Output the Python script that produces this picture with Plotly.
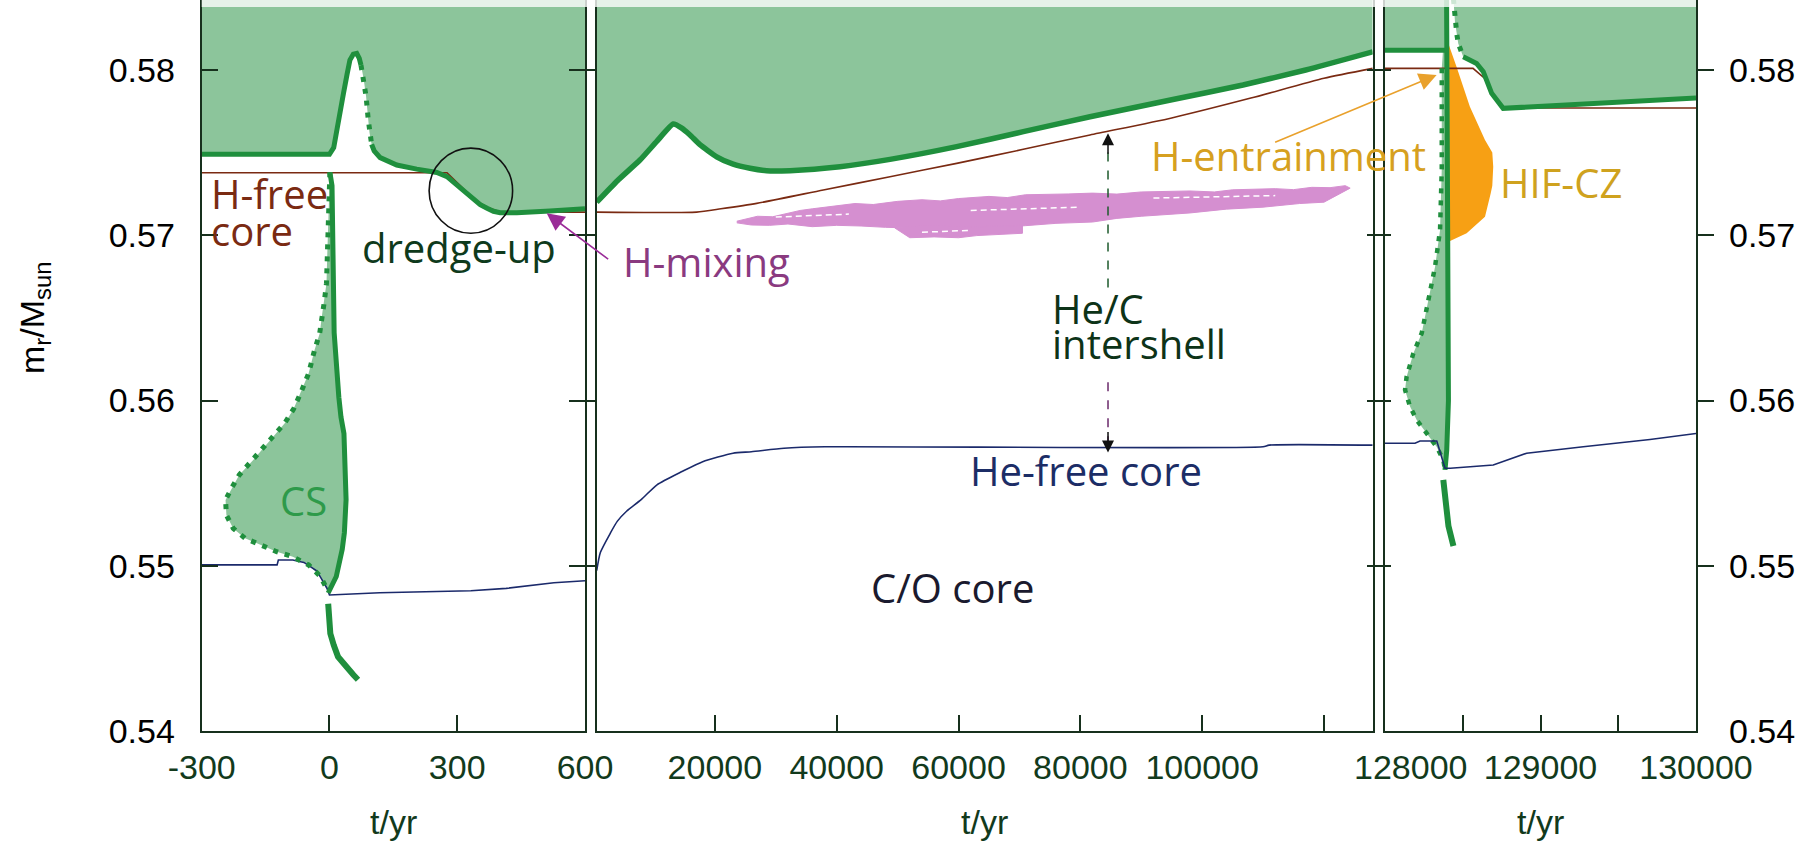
import plotly.graph_objects as go

W, H = 1816, 842
Y_TOP = 0.5845

# ---------------- Panel 1 (t = -300 .. 600 yr) ----------------
T1_ENV = [-300, -200, -100, 0, 10, 17, 25, 33, 41, 48, 56, 64, 70, 74]
M1_ENV = [0.5749, 0.5749, 0.5749, 0.5749, 0.5753, 0.5762, 0.5774, 0.5786, 0.5797, 0.5806, 0.58095, 0.5810, 0.5807, 0.5803]
T1_ENV_FALL = [74, 80, 86, 91, 94, 99]
M1_ENV_FALL = [0.5803, 0.5795, 0.5784, 0.5770, 0.5762, 0.5755]
T1_ENV_POST = [99, 105, 119, 140, 158, 205, 252, 276, 292, 307, 322, 338, 354, 370, 385, 401, 440, 518, 600]
M1_ENV_POST = [0.5755, 0.5751, 0.5747, 0.57445, 0.57425, 0.5740, 0.5738, 0.57355, 0.5732, 0.57283, 0.5725,
               0.57213, 0.57185, 0.57163, 0.57145, 0.57136, 0.57136, 0.57146, 0.5716]

T1_HFREE = [-300, 276, 307, 338, 370, 401, 600]
M1_HFREE = [0.57378, 0.57378, 0.5730, 0.5722, 0.5717, 0.5714, 0.5714]

T1_HEFREE = [-300, -123, -120, -86, -60, -30, -5, 0, 118, 332, 415, 527, 600]
M1_HEFREE = [0.55005, 0.55005, 0.55035, 0.55035, 0.55020, 0.5497, 0.5486, 0.54823, 0.54837, 0.54849, 0.54863, 0.54897, 0.54909]

T1_CS_LEFT = [1, -1, -3, -5, -7, -12, -17, -23, -35, -49, -68, -84, -105, -142, -179, -212, -230, -244, -242,
              -226, -198, -161, -124, -86, -49, -21, -3]
M1_CS_LEFT = [0.5738, 0.5725, 0.5711, 0.5690, 0.5671, 0.5660, 0.56527, 0.56406, 0.56305, 0.56164, 0.56043, 0.5595,
              0.55863, 0.55751, 0.5564, 0.55549, 0.55469, 0.55398, 0.55307, 0.55226, 0.55166, 0.55126, 0.55085,
              0.55054, 0.55005, 0.54935, 0.54843]
T1_CS_RIGHT = [-3, 16, 30, 35, 39, 34, 27, 22, 11, 7, 6, 1]
M1_CS_RIGHT = [0.54835, 0.54935, 0.5510, 0.5520, 0.5540, 0.5580, 0.5590, 0.5602, 0.5641, 0.5700, 0.5730, 0.5738]

T1_LOW = [-3, 0, 2, 10, 20, 33, 44, 56, 67]
M1_LOW = [0.5477, 0.5468, 0.5459, 0.5452, 0.5445, 0.5441, 0.5437, 0.5434, 0.5431]

# ---------------- Panel 2 (t = 600 .. 128000 yr) ----------------
T2_ENV = [600, 4000, 7700, 10500, 13180, 14500, 15920, 17500, 20300, 23000, 25770, 28500, 32340, 40540, 48750,
          59700, 70640, 81590, 95000, 106700, 117000, 128000]
M2_ENV = [0.5720, 0.5733, 0.57455, 0.5757, 0.57673, 0.5765, 0.57607, 0.5755, 0.57475, 0.5743, 0.57405, 0.5739,
          0.57391, 0.57415, 0.57459, 0.57536, 0.57627, 0.57717, 0.5782, 0.57909, 0.5800, 0.5811]

T2_HFREE = [600, 17000, 21000, 26870, 37800, 48750, 59700, 70640, 81590, 95000, 108000, 120000, 128000]
M2_HFREE = [0.5714, 0.5714, 0.5716, 0.57193, 0.57274, 0.57354, 0.57435, 0.5752, 0.57607, 0.5771, 0.5783, 0.5795, 0.5801]

T2_HEFREE = [600, 1200, 2880, 4000, 5500, 7900, 10500, 14600, 18000, 22980, 26000, 31350, 38070, 110000, 111000, 128000]
M2_HEFREE = [0.5497, 0.5508, 0.5520, 0.5527, 0.5533, 0.5540, 0.5549, 0.5557, 0.5563, 0.55681, 0.5569, 0.55711,
             0.5572, 0.5572, 0.5573, 0.5573]

# H-mixing (pink) region outlines
T2_MIX = [23600, 25500, 27000, 29500, 32000, 34000, 36000, 39000, 43000, 46000, 50000, 54000, 57000, 60000, 65000,
          68000, 71000, 78000, 82000, 86000, 90000, 98000, 102000, 105000, 112000, 115000, 118000, 121000, 123500,
          124300, 122000, 120000, 116000, 110000, 104000, 98000, 90000, 86000, 82000, 76000, 71000, 66000, 60000,
          57000, 54000, 48000, 44000, 40000, 36000, 32000, 29000, 26000, 23600]
M2_MIX = [0.57085, 0.57100, 0.57115, 0.57112, 0.57135, 0.57150, 0.57160, 0.57172, 0.57192, 0.57186, 0.57205,
          0.57215, 0.57208, 0.57222, 0.57235, 0.57228, 0.57245, 0.57250, 0.57255, 0.57249, 0.57262, 0.57268,
          0.57262, 0.57275, 0.57282, 0.57276, 0.57290, 0.57288, 0.57300, 0.57285, 0.57240, 0.57200, 0.57192,
          0.57170, 0.57158, 0.57135, 0.57115, 0.57102, 0.57080, 0.57072, 0.57058, 0.57046, 0.57030, 0.57040,
          0.57042, 0.57048, 0.57056, 0.57060, 0.57052, 0.57068, 0.57060, 0.57062, 0.57075]
T2_MIX_B = [49500, 52000, 56000, 60000, 63000, 66000, 70500, 70500, 62000, 55000]
M2_MIX_B = [0.57045, 0.56985, 0.56990, 0.56985, 0.56998, 0.57005, 0.57012, 0.57060, 0.57050, 0.57060]
# white streaks inside the noisy H-mixing band
T2_GAP_A = [30000, 42000]
M2_GAP_A = [0.57110, 0.57128]
T2_GAP_B = [62000, 80000]
M2_GAP_B = [0.57150, 0.57170]
T2_GAP_C = [92000, 112000]
M2_GAP_C = [0.57225, 0.57240]
T2_GAP_D = [54000, 62000]
M2_GAP_D = [0.57018, 0.57030]

# ---------------- Panel 3 (t = 128000 .. 130000 yr) ----------------
T3_ENV_L = [128000, 128396]
M3_ENV_L = [0.5812, 0.5812]
T3_ENV_R = [128440, 128450, 128461, 128471, 128503, 128589, 128632, 128686, 128760, 128955, 129382, 130000]
M3_ENV_R = [0.5843, 0.58292, 0.58222, 0.58161, 0.5808, 0.5804, 0.5799, 0.57859, 0.57768, 0.57778, 0.57798, 0.5783]

T3_HFREE = [128000, 128566, 128640, 128690, 128760, 130000]
M3_HFREE = [0.5801, 0.5801, 0.5795, 0.5785, 0.5777, 0.5777]

T3_HEFREE = [128000, 128193, 128225, 128333, 128386, 128420, 128696, 128911, 129275, 129704, 130000]
M3_HEFREE = [0.55741, 0.55741, 0.55755, 0.55755, 0.5559, 0.5559, 0.5561, 0.55681, 0.5572, 0.55764, 0.5580]

T3_CS_LEFT = [128365, 128365, 128354, 128322, 128279, 128236, 128182, 128139, 128129, 128161, 128204, 128268,
              128332, 128375, 128386]
M3_CS_LEFT = [0.5801, 0.5740, 0.57032, 0.5681, 0.56608, 0.56407, 0.56285, 0.56144, 0.56064, 0.55963, 0.55882,
              0.55801, 0.5572, 0.5564, 0.5558]
T3_CS_RIGHT = [128386, 128397, 128408, 128405, 128400, 128398, 128396, 128396]
M3_CS_RIGHT = [0.5558, 0.5570, 0.5600, 0.5650, 0.5700, 0.5760, 0.5812, 0.5843]

T3_LOW = [128375, 128386, 128408, 128440]
M3_LOW = [0.5552, 0.5540, 0.5524, 0.5512]

T3_HIF = [128396, 128460, 128546, 128643, 128690, 128696, 128690, 128680, 128643, 128525, 128408, 128400]
M3_HIF = [0.5819, 0.5802, 0.57778, 0.57576, 0.5750, 0.57415, 0.5730, 0.57254, 0.57112, 0.57012, 0.56961, 0.5760]

# tick labels
Y_TICKS = [0.54, 0.55, 0.56, 0.57, 0.58]
Y_TICKTEXT = ["0.54", "0.55", "0.56", "0.57", "0.58"]
X1_TICKS = [-300, 0, 300, 600]
X1_TICKTEXT = ["-300", "0", "300", "600"]
X2_TICKS = [20000, 40000, 60000, 80000, 100000, 120000]
X2_TICKTEXT = ["20000", "40000", "60000", "80000", "100000", ""]
X3_TICKS = [128000, 128500, 129000, 129500, 130000]
X3_TICKTEXT = ["", "", "129000", "", "130000"]

# ---------------- styling ----------------
FILL = "#8cc59b"
GREEN = "#1f8f3d"
BROWN = "#7a2a12"
BLUE = "#1b2a6b"
PINK = "#d58fd0"
ORANGE = "#f7a014"
AX = "#17301d"
TICKFONT = "Liberation Sans, Arial, sans-serif"
ANNFONT = "Open Sans, Noto Sans, sans-serif"
DOTS = "5px,7px"

fig = go.Figure()


def add(x, y, xa, ya="y", **kw):
    base = dict(x=x, y=y, xaxis=xa, yaxis=ya, showlegend=False, hoverinfo="skip")
    base.update(kw)
    fig.add_trace(go.Scatter(**base))


def fill_above(ts, ms, xa, t_left, t_right):
    add(list(ts) + [t_right, t_left], list(ms) + [Y_TOP, Y_TOP], xa, mode="lines",
        fill="toself", fillcolor=FILL, line=dict(width=0))


# envelope fills
fill_above(T1_ENV + T1_ENV_FALL + T1_ENV_POST, M1_ENV + M1_ENV_FALL + M1_ENV_POST, "x", -300, 600)
fill_above(T2_ENV, M2_ENV, "x2", 600, 128000)
fill_above(T3_ENV_L, M3_ENV_L, "x3", T3_ENV_L[0], T3_ENV_L[-1])
fill_above(T3_ENV_R, M3_ENV_R, "x3", T3_ENV_R[0], 130000)

# convective shell fills
add(T1_CS_LEFT + T1_CS_RIGHT, M1_CS_LEFT + M1_CS_RIGHT, "x", mode="lines", fill="toself",
    fillcolor=FILL, line=dict(width=0))
add(T3_CS_LEFT + T3_CS_RIGHT, M3_CS_LEFT + M3_CS_RIGHT, "x3", mode="lines", fill="toself",
    fillcolor=FILL, line=dict(width=0))

# H-mixing region
add(T2_MIX, M2_MIX, "x2", mode="lines", fill="toself", fillcolor=PINK, line=dict(width=1, color=PINK))
add(T2_MIX_B, M2_MIX_B, "x2", mode="lines", fill="toself", fillcolor=PINK, line=dict(width=1, color=PINK))
for gx, gy in ((T2_GAP_A, M2_GAP_A), (T2_GAP_B, M2_GAP_B), (T2_GAP_C, M2_GAP_C), (T2_GAP_D, M2_GAP_D)):
    add(gx, gy, "x2", mode="lines", line=dict(color="white", width=1.5, dash="6px,4px"))

# HIF-CZ
add(T3_HIF, M3_HIF, "x3", mode="lines", fill="toself", fillcolor=ORANGE, line=dict(width=0))

# H-free core
add(T1_HFREE, M1_HFREE, "x", mode="lines", line=dict(color=BROWN, width=1.6))
add(T2_HFREE, M2_HFREE, "x2", mode="lines", line=dict(color=BROWN, width=1.6, shape="spline", smoothing=0.6))
add(T3_HFREE, M3_HFREE, "x3", mode="lines", line=dict(color=BROWN, width=1.6))

# He-free core
add(T1_HEFREE, M1_HEFREE, "x", mode="lines", line=dict(color=BLUE, width=1.6))
add(T2_HEFREE, M2_HEFREE, "x2", mode="lines", line=dict(color=BLUE, width=1.6, shape="spline", smoothing=0.6))
add(T3_HEFREE, M3_HEFREE, "x3", ya="y2", mode="lines", line=dict(color=BLUE, width=1.6))

# convective boundaries
add(T1_ENV, M1_ENV, "x", mode="lines", line=dict(color=GREEN, width=5))
add(T1_ENV_FALL, M1_ENV_FALL, "x", mode="lines", line=dict(color=GREEN, width=5, dash=DOTS))
add(T1_ENV_POST, M1_ENV_POST, "x", mode="lines", line=dict(color=GREEN, width=5))
add(T1_CS_LEFT, M1_CS_LEFT, "x", mode="lines", line=dict(color=GREEN, width=5, dash=DOTS))
add(T1_CS_RIGHT, M1_CS_RIGHT, "x", mode="lines", line=dict(color=GREEN, width=5))
add(T1_LOW, M1_LOW, "x", mode="lines", line=dict(color=GREEN, width=6))

add(T2_ENV, M2_ENV, "x2", mode="lines", line=dict(color=GREEN, width=5.5, shape="spline", smoothing=0.5))

add(T3_ENV_L, M3_ENV_L, "x3", mode="lines", line=dict(color=GREEN, width=5))
add(T3_ENV_R[:5], M3_ENV_R[:5], "x3", mode="lines", line=dict(color=GREEN, width=5, dash=DOTS))
add(T3_ENV_R[4:], M3_ENV_R[4:], "x3", mode="lines", line=dict(color=GREEN, width=5))
add(T3_CS_LEFT, M3_CS_LEFT, "x3", mode="lines", line=dict(color=GREEN, width=4.5, dash=DOTS))
add(T3_CS_RIGHT, M3_CS_RIGHT, "x3", mode="lines", line=dict(color=GREEN, width=5))
add(T3_LOW, M3_LOW, "x3", mode="lines", line=dict(color=GREEN, width=6))

# ---------------- axes ----------------
def px(v):
    return v / W


Y_DOM = [1 - 731 / H, 1.0]
Y_RANGE = [0.54, 0.584236]

xcommon = dict(anchor="y", showline=True, linecolor=AX, linewidth=2, mirror=False, ticks="inside",
               ticklen=16, tickwidth=2, tickcolor=AX, showgrid=False, zeroline=False, automargin=False,
               tickfont=dict(family=TICKFONT, size=34, color="#123a1c"), ticklabelstandoff=5)

fig.update_layout(
    template="none",
    width=W, height=H, margin=dict(l=0, r=0, t=0, b=0, pad=0), autosize=False,
    paper_bgcolor="white", plot_bgcolor="white", showlegend=False,
    xaxis=dict(domain=[px(201.7), px(585)], range=[-300, 600], tickvals=X1_TICKS, ticktext=X1_TICKTEXT, **xcommon),
    xaxis2=dict(domain=[px(596.7), px(1372.7)], range=[600, 128000], tickvals=X2_TICKS, ticktext=X2_TICKTEXT, **xcommon),
    xaxis3=dict(domain=[px(1385), px(1696)], range=[128000, 130000], tickvals=X3_TICKS, ticktext=X3_TICKTEXT, **xcommon),
    yaxis=dict(domain=Y_DOM, range=Y_RANGE, anchor="x", showline=True, linecolor=AX, linewidth=2,
               mirror="allticks", ticks="inside", ticklen=16, tickwidth=2, tickcolor=AX, automargin=False,
               tickvals=Y_TICKS, ticktext=Y_TICKTEXT, showgrid=False, zeroline=False,
               tickfont=dict(family=TICKFONT, size=34, color="black"), ticklabelstandoff=18),
    yaxis2=dict(range=Y_RANGE, overlaying="y", anchor="x3", side="right", showline=False, ticks="",
                tickvals=Y_TICKS, ticktext=Y_TICKTEXT, showgrid=False, zeroline=False, automargin=False,
                tickfont=dict(family=TICKFONT, size=34, color="black"), ticklabelstandoff=32),
)

# ---------------- annotations ----------------
ann = []


def ptxt(x, base_y, text, color, size=40, family=ANNFONT, xanchor="left", angle=0):
    ann.append(dict(xref="paper", yref="paper", x=x / W, y=1 - (base_y - 0.36 * size) / H, text=text,
                    showarrow=False, xanchor=xanchor, yanchor="middle", textangle=angle,
                    font=dict(family=family, size=size, color=color)))


ptxt(209, 208, "H-free", BROWN)
ptxt(209, 245, "core", BROWN)
ptxt(360, 262, "dredge-up", "#0e3a1c")
ptxt(621, 276, "H-mixing", "#8a3a80")
ptxt(1050, 323, "He/C", "#0d3318")
ptxt(1050, 358, "intershell", "#0d3318")
ptxt(968, 485, "He-free core", "#1c2d66")
ptxt(869, 602, "C/O core", "#1a1a2e")
ptxt(278, 515, "CS", "#2e9a4a")
ptxt(1149, 170, "H-entrainment", "#d6a020")
ptxt(1498, 197, "HIF-CZ", "#cfa21e")

# axis titles
for cx in (393, 984.7, 1540.5):
    ptxt(cx, 834, "t/yr", "#123a1c", size=34, family=TICKFONT, xanchor="center")
ptxt(1410, 779, "128000", "#123a1c", size=34, family=TICKFONT, xanchor="center")
ann.append(dict(xref="paper", yref="paper", x=35 / W, y=1 - 318 / H, text="m<sub>r</sub>/M<sub>sun</sub>",
                showarrow=False, textangle=-90, xanchor="center", yanchor="middle",
                font=dict(family=TICKFONT, size=34, color="black")))

# arrows
ann.append(dict(xref="x", yref="y", x=510, y=0.57133, ax=63, ay=47, text="", showarrow=True,
                arrowhead=2, arrowsize=2.2, arrowwidth=1.6, arrowcolor="#9a2c98"))
ann.append(dict(xref="x3", yref="y", x=128332, y=0.5797, ax=-163, ay=68, text="", showarrow=True,
                arrowhead=2, arrowsize=2.2, arrowwidth=1.6, arrowcolor="#e9a12c"))
ann.append(dict(xref="x2", yref="y", x=84545, y=0.57617, ax=0, ay=22, text="", showarrow=True,
                arrowhead=2, arrowsize=1.6, arrowwidth=1.5, arrowcolor="#111111"))
ann.append(dict(xref="x2", yref="y", x=84545, y=0.55685, ax=0, ay=-22, text="", showarrow=True,
                arrowhead=2, arrowsize=1.6, arrowwidth=1.5, arrowcolor="#111111"))
fig.update_layout(annotations=ann)

# shapes: dashed guide, dredge-up circle, pale top band
shapes = [
    dict(type="line", xref="x2", yref="y", x0=84545, x1=84545, y0=0.5750, y1=0.5665,
         line=dict(color="#1d5a2c", width=1.5, dash="dash")),
    dict(type="line", xref="x2", yref="y", x0=84545, x1=84545, y0=0.5611, y1=0.5575,
         line=dict(color="#6b2a6b", width=1.5, dash="dash")),
    dict(type="circle", xref="x", yref="y", x0=234, x1=430, y0=0.57012, y1=0.57527,
         line=dict(color="#111111", width=1.6)),
    dict(type="rect", xref="paper", yref="paper", x0=px(201.7), x1=px(1696), y0=1 - 7 / H, y1=1,
         fillcolor="rgba(255,255,255,0.78)", line=dict(width=0), layer="above"),
]
fig.update_layout(shapes=shapes)

fig.write_html("out.html", config={"displayModeBar": False},
               post_script="document.body.style.margin='0px';document.body.style.overflow='hidden';")
